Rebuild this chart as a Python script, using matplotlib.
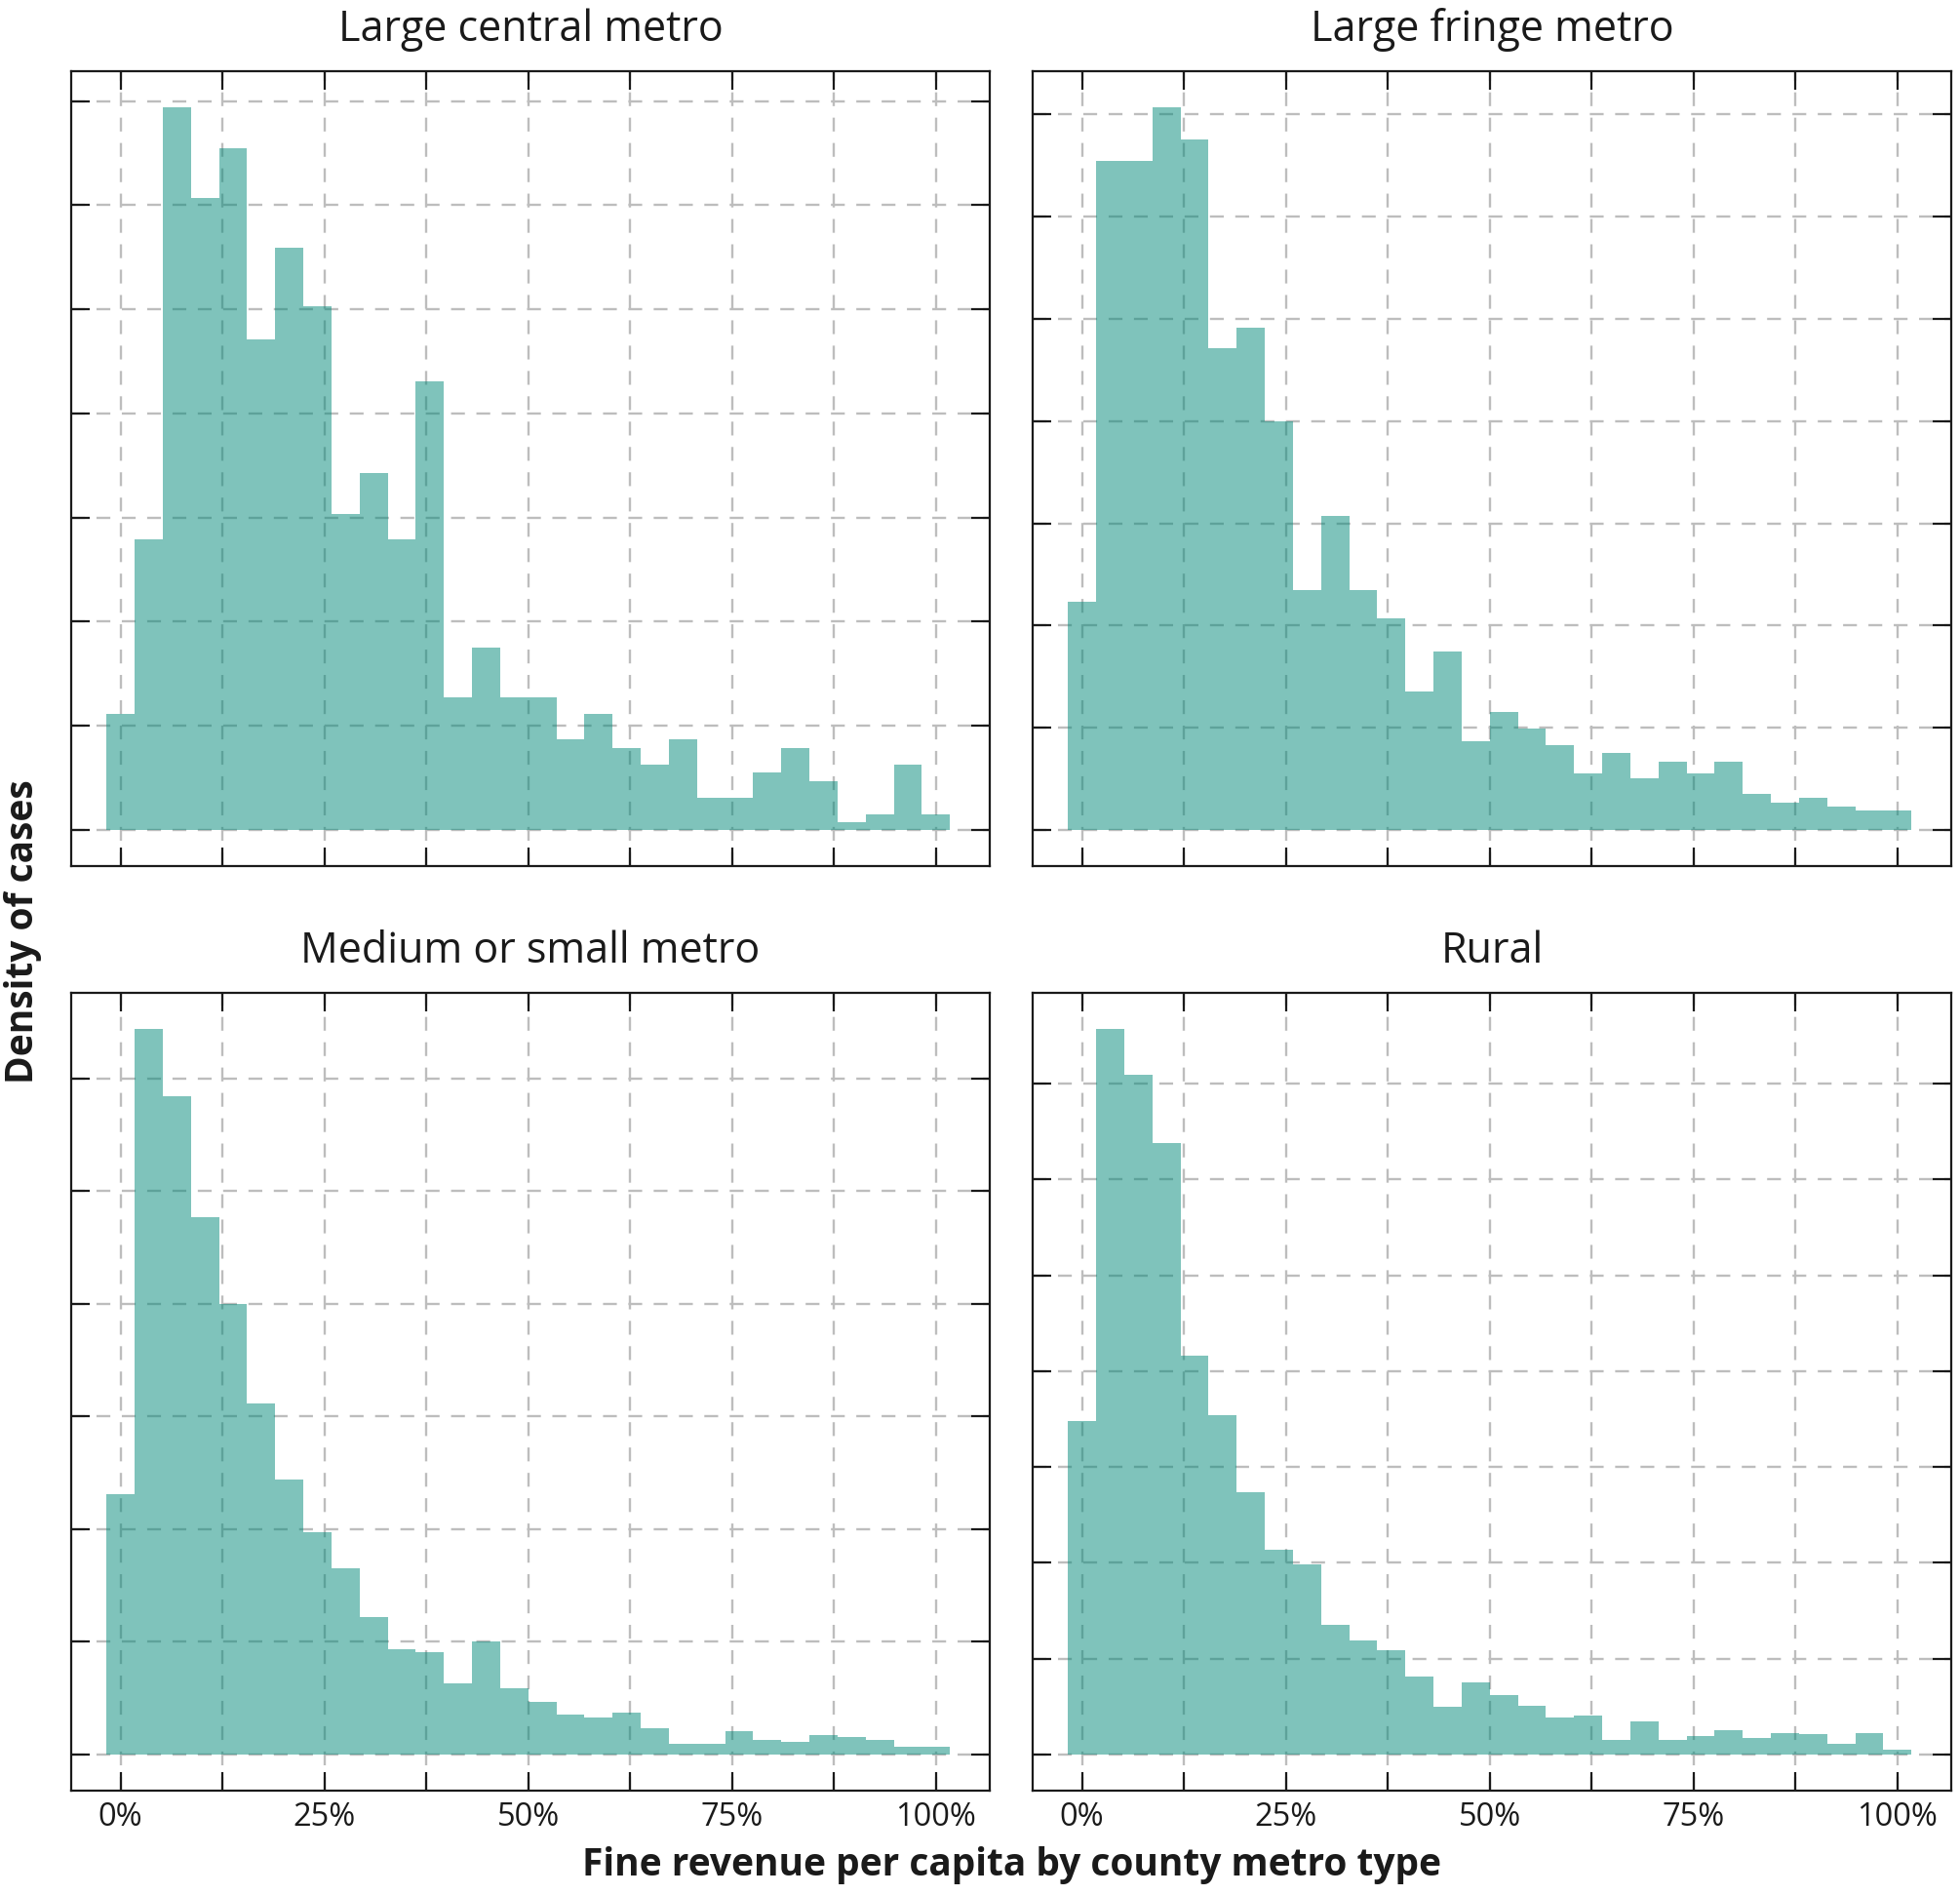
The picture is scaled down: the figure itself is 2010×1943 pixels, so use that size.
import numpy as np
import matplotlib
matplotlib.use("Agg")
import matplotlib.pyplot as plt
from matplotlib.ticker import MultipleLocator, FuncFormatter

plt.rcParams['font.family'] = ['Open Sans', 'DejaVu Sans']

# panel titles, in facet order
panels = ["Large central metro", "Large fringe metro",
          "Medium or small metro", "Rural"]

# density per bin (30 bins over 0-100%), read in units of one y gridline step
large_central = [1.11, 2.79, 6.94, 6.07, 6.55, 4.71, 5.59, 5.03, 3.03, 3.43,
                 2.79, 4.31, 1.27, 1.75, 1.27, 1.27, 0.87, 1.11, 0.79, 0.63,
                 0.87, 0.31, 0.31, 0.55, 0.79, 0.47, 0.07, 0.15, 0.63, 0.15]
large_fringe = [2.23, 6.55, 6.55, 7.07, 6.76, 4.71, 4.91, 4.00, 2.35, 3.07,
                2.35, 2.07, 1.35, 1.75, 0.87, 1.15, 0.99, 0.83, 0.55, 0.75,
                0.51, 0.67, 0.55, 0.67, 0.35, 0.27, 0.31, 0.23, 0.19, 0.19]
medium_small = [2.31, 6.44, 5.84, 4.77, 4.00, 3.12, 2.44, 1.97, 1.65, 1.22,
                0.93, 0.91, 0.63, 1.00, 0.59, 0.47, 0.35, 0.33, 0.37, 0.23,
                0.09, 0.09, 0.21, 0.13, 0.11, 0.17, 0.15, 0.13, 0.07, 0.07]
rural = [3.48, 7.57, 7.09, 6.38, 4.16, 3.54, 2.74, 2.14, 1.98, 1.35,
         1.19, 1.09, 0.81, 0.50, 0.75, 0.62, 0.51, 0.39, 0.41, 0.15,
         0.34, 0.15, 0.19, 0.25, 0.17, 0.22, 0.21, 0.11, 0.22, 0.05]
series = [large_central, large_fringe, medium_small, rural]

n_bins = 30
bw = 100 / (n_bins - 1)
edges = np.linspace(-bw / 2, 100 + bw / 2, n_bins + 1)

fig = plt.figure(figsize=(20.10, 19.43), dpi=100)
W, H = 2010, 1943
cols = [(73, 1015), (1059, 2001)]
rows = [(73, 888), (1018, 1836)]

fill = "#018979"
for i, (name, vals) in enumerate(zip(panels, series)):
    r, c = divmod(i, 2)
    x0, x1 = cols[c]
    y0, y1 = rows[r]
    ax = fig.add_axes([x0 / W, 1 - y1 / H, (x1 - x0) / W, (y1 - y0) / H])
    ax.set_axisbelow(True)
    ax.stairs(vals, edges, fill=True, color=fill, alpha=0.5, linewidth=0)
    top = max(vals)
    ax.set_ylim(-0.05 * top, 1.05 * top)
    ax.set_xlim(-6.05, 106.6)

    ax.xaxis.set_major_locator(MultipleLocator(25))
    ax.xaxis.set_minor_locator(MultipleLocator(12.5))
    ax.yaxis.set_major_locator(MultipleLocator(1))
    ax.xaxis.set_major_formatter(FuncFormatter(lambda v, p: f"{v:.0f}%"))
    ax.grid(True, which="both", color="#bdbdbd", linestyle=(0, (6, 5)),
            linewidth=1.7)
    ax.tick_params(which="both", direction="in", length=13.5, width=1.6,
                   top=True, right=True, color="#1a1a1a")
    ax.tick_params(axis="x", labelsize=23.5, pad=8, labelcolor="#1a1a1a")
    ax.set_yticklabels([])
    if r == 0:
        ax.set_xticklabels([])
    for s in ax.spines.values():
        s.set_linewidth(1.6)
        s.set_color("#1a1a1a")
    ax.set_title(name, fontsize=31, pad=22, color="#1a1a1a")

fig.text(1037 / W, 1 - 1913 / H, "Fine revenue per capita by county metro type",
         ha="center", va="center", fontsize=28, fontweight="bold",
         color="#1a1a1a")
fig.text(24 / W, 1 - 955 / H, "Density of cases", ha="center", va="center",
         rotation=90, fontsize=28, fontweight="bold", color="#1a1a1a")

fig.savefig("out.png", dpi=100)
